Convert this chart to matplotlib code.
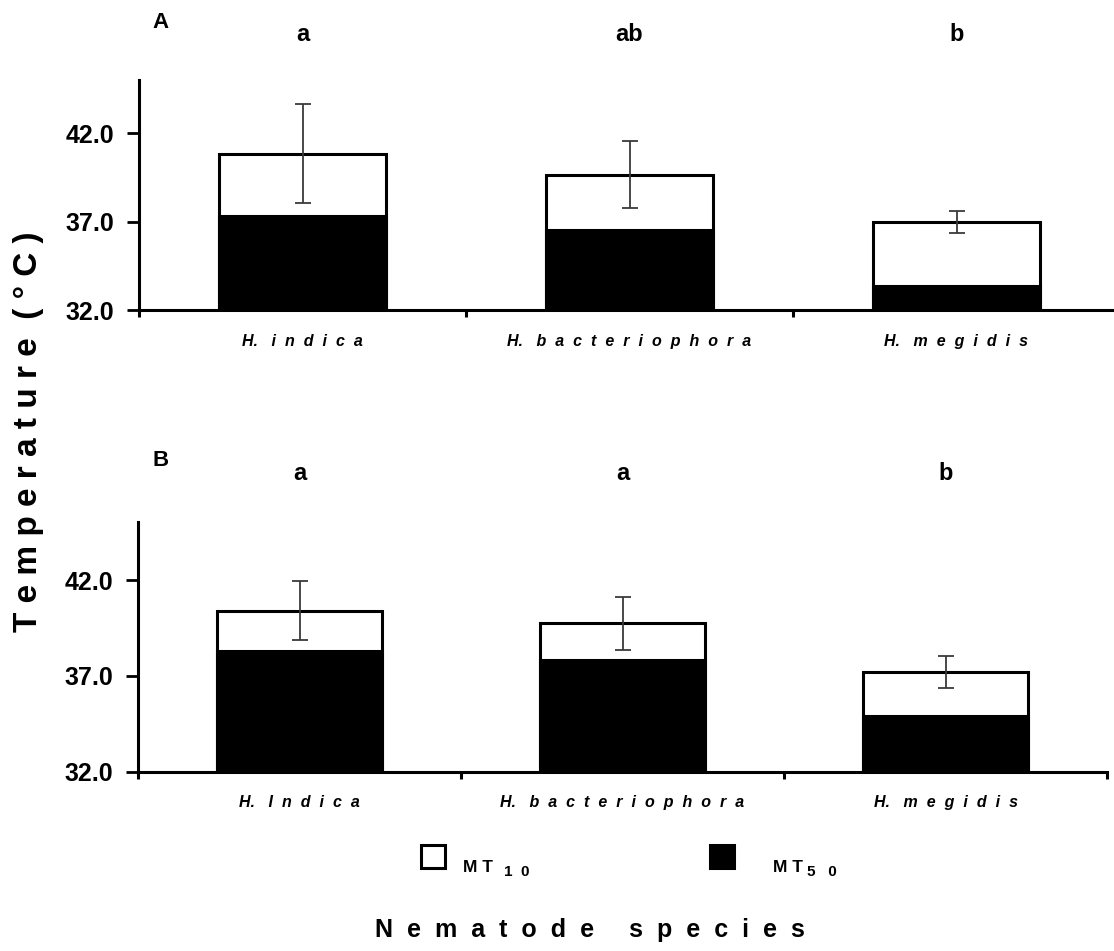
import numpy as np
import matplotlib
matplotlib.use("Agg")
import matplotlib.pyplot as plt
from matplotlib.patches import Rectangle

plt.rcParams['font.family'] = ['Liberation Sans', 'DejaVu Sans']

# ---- data ----
species_A = ["H. indica", "H. bacteriophora", "H. megidis"]
species_B = ["H. Indica", "H. bacteriophora", "H. megidis"]
mt10_A = [40.85, 39.65, 37.00]
mt50_A = [37.32, 36.53, 33.36]
err_A = [2.80, 1.90, 0.62]
groups_A = ["a", "ab", "b"]
mt10_B = [40.40, 39.74, 37.22]
mt50_B = [38.31, 37.83, 34.90]
err_B = [1.55, 1.37, 0.84]
groups_B = ["a", "a", "b"]
y_ticks = [32.0, 37.0, 42.0]
y_min, y_max = 32.0, 45.0
panel_labels = ["A", "B"]

W, H = 1114, 951
fig = plt.figure(figsize=(W / 100, H / 100), dpi=100)


def px_rect(left, top, right, bottom):
    return [left / W, 1 - bottom / H, (right - left) / W, (bottom - top) / H]


def spaced(name):
    genus, sp = name.split(" ")
    return genus + "   " + "  ".join(sp)


def panel(rect, species, mt10, mt50, err, groups):
    ax = fig.add_axes(rect)
    x = np.arange(len(species)) + 0.5
    ax.bar(x, np.array(mt10) - y_min, bottom=y_min, width=0.51, color='white',
           edgecolor='black', linewidth=2.2, zorder=2)
    ax.bar(x, np.array(mt50) - y_min, bottom=y_min, width=0.51, color='black',
           edgecolor='black', linewidth=2.2, zorder=3)
    ax.errorbar(x, mt10, yerr=err, fmt='none', ecolor='#3a3a3a', elinewidth=1.3,
                capsize=5.8, capthick=1.3, zorder=4)
    ax.set_xlim(0, 3)
    ax.set_ylim(y_min, y_max)
    for s in ['top', 'right']:
        ax.spines[s].set_visible(False)
    for s in ['left', 'bottom']:
        ax.spines[s].set_linewidth(2.2)
    ax.set_yticks(y_ticks)
    ax.set_yticklabels([f"{v:.1f}" for v in y_ticks], fontsize=18, fontweight='bold')
    ax.tick_params(axis='y', direction='out', length=8.6, width=2, pad=9)
    ax.set_xticks([0, 1, 2, 3])
    ax.set_xticklabels([])
    ax.tick_params(axis='x', which='major', direction='out', length=5, width=2.2)
    ax.set_xticks(x, minor=True)
    ax.set_xticklabels([spaced(s) for s in species], minor=True, fontsize=11.5,
                       fontstyle='italic', fontweight='bold')
    ax.tick_params(axis='x', which='minor', length=0, pad=17)
    for xi, g in zip(x, groups):
        ax.text(xi, 47.2, g, ha='center', va='baseline', fontsize=17,
                fontweight='bold', clip_on=False)
    return ax


axA = panel(px_rect(139, 310 - 13 * 17.67, 139 + 3 * 327, 310),
            species_A, mt10_A, mt50_A, err_A, groups_A)
axB = panel(px_rect(138, 771.7 - 13 * 19.17, 138 + 3 * 323, 771.7),
            species_B, mt10_B, mt50_B, err_B, groups_B)

fig.text(152 / W, 1 - 28 / H, panel_labels[0], fontsize=16, fontweight='bold',
         ha='left', va='baseline')
fig.text(152 / W, 1 - 466 / H, panel_labels[1], fontsize=16, fontweight='bold',
         ha='left', va='baseline')

# axis titles
fig.text(29 / W, 1 - 432 / H, "T e m p e r a t u r e  ( ° C )", rotation=90,
         fontsize=24, fontweight='bold', ha='center', va='center')
fig.text(590 / W, 1 - 937 / H, "N  e  m  a  t  o  d  e     s  p  e  c  i  e  s",
         fontsize=18, fontweight='bold', ha='center', va='baseline')

# legend
fig.patches.append(Rectangle((420.5 / W, 1 - 867.5 / H), 24 / W, 23 / H,
                             transform=fig.transFigure, facecolor='white',
                             edgecolor='black', linewidth=2.2))
fig.patches.append(Rectangle((710 / W, 1 - 867.5 / H), 24 / W, 23 / H,
                             transform=fig.transFigure, facecolor='black',
                             edgecolor='black', linewidth=2.2))
fig.text(463 / W, 1 - 872 / H, "M T", fontsize=12.5, fontweight='bold',
         ha='left', va='baseline')
fig.text(504 / W, 1 - 876 / H, "1  0", fontsize=11, fontweight='bold',
         ha='left', va='baseline')
fig.text(773 / W, 1 - 872 / H, "M T", fontsize=12.5, fontweight='bold',
         ha='left', va='baseline')
fig.text(807 / W, 1 - 876 / H, "5   0", fontsize=11, fontweight='bold',
         ha='left', va='baseline')

fig.savefig("out.png", dpi=100)
